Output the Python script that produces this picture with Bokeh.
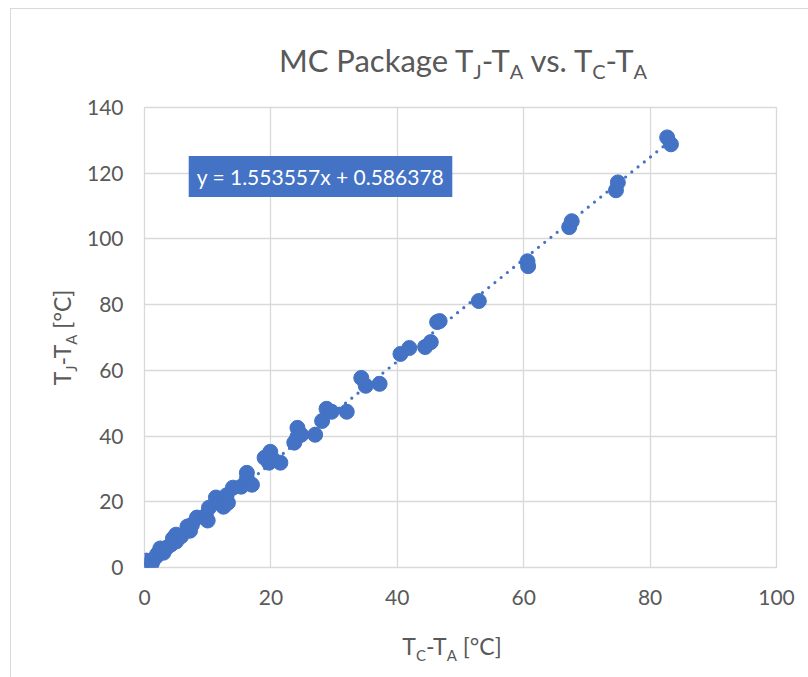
from bokeh.plotting import figure
from bokeh.models import FixedTicker, Range1d, Div, Label
from bokeh.layouts import column, row
from bokeh.embed import file_html
from bokeh.resources import INLINE

# ---- data ----
tc_ta = [0.3, 0.5, 1.0, 1.2, 1.8, 2.0, 2.5, 3.0, 3.5, 4.2, 4.5, 5.0, 5.0, 5.8,
         6.8, 7.2, 7.5, 8.3, 9.7, 10.0, 10.2, 11.3, 11.8, 12.5, 13.2, 13.0,
         14.0, 15.3, 16.2, 16.2, 17.0, 19.0, 19.9, 19.7, 20.3, 21.5, 23.7,
         24.2, 24.2, 24.8, 27.0, 28.1, 28.8, 29.6, 32.0, 34.3, 35.0, 37.2,
         40.5, 41.9, 44.4, 45.3, 46.3, 46.7, 52.9, 60.6, 60.7, 67.2, 67.6,
         74.6, 74.9, 82.7, 83.3]
tj_ta = [2.1, 0.8, 0.3, 1.5, 3.2, 4.0, 5.8, 4.5, 6.0, 7.0, 8.8, 10.0, 7.9, 9.5,
         12.5, 11.2, 13.0, 15.2, 15.8, 14.3, 18.2, 21.3, 19.7, 18.5, 19.7, 22.0,
         24.3, 24.6, 28.8, 27.0, 25.2, 33.4, 35.2, 31.9, 33.0, 31.9, 38.0,
         42.5, 39.8, 40.4, 40.4, 44.6, 48.3, 47.4, 47.4, 57.7, 55.3, 55.9,
         65.0, 66.8, 67.1, 68.6, 74.7, 75.0, 81.1, 93.2, 91.7, 103.6, 105.4,
         114.8, 117.2, 130.9, 128.8]
slope = 1.553557
intercept = 0.586378
x_ticks = [0, 20, 40, 60, 80, 100]
y_ticks = [0, 20, 40, 60, 80, 100, 120, 140]
equation = "y = 1.553557x + 0.586378"

# ---- layout (page pixels) ----
W, H = 808, 677
OX, OY = 11, 9                      # inner origin of the chart-area border
FL, FR, FT, FB = 144, 776, 107, 567  # plot frame
YLAB_W = 68                         # width of the y-title strip
FIG_TOP = 95                        # top of the figure canvas
FIG_BOT = 614                       # bottom of the figure canvas
BLUE = "#4472C4"
GRAY = "#595959"
GRID = "#d9d9d9"
FONT = "Lato"

fig_w = W - OX - YLAB_W
fig_h = FIG_BOT - FIG_TOP

p = figure(width=fig_w, height=fig_h,
           x_range=Range1d(0, 100), y_range=Range1d(0, 140),
           output_backend="svg", toolbar_location=None,
           min_border_left=FL - OX - YLAB_W, min_border_right=W - FR,
           min_border_top=FT - FIG_TOP, min_border_bottom=FIG_BOT - FB,
           margin=0)

p.background_fill_color = "white"
p.border_fill_color = "white"
p.outline_line_color = GRID
p.outline_line_width = 1.3

for ax, ticks in ((p.xaxis, x_ticks), (p.yaxis, y_ticks)):
    ax.ticker = FixedTicker(ticks=ticks)
    ax.axis_line_color = None
    ax.major_tick_line_color = None
    ax.minor_tick_line_color = None
    ax.major_tick_out = 0
    ax.major_tick_in = 0
    ax.minor_tick_out = 0
    ax.major_label_text_font = FONT
    ax.major_label_text_font_size = "21px"
    ax.major_label_text_color = GRAY
p.xaxis.major_label_standoff = 22
p.yaxis.major_label_standoff = 21

p.xgrid.ticker = FixedTicker(ticks=x_ticks)
p.ygrid.ticker = FixedTicker(ticks=y_ticks)
p.grid.grid_line_color = GRID
p.grid.grid_line_width = 1.3

# scatter points
p.scatter(tc_ta, tj_ta, size=15, fill_color=BLUE, line_color=BLUE)

# linear trendline from the fitted coefficients
tx = [min(tc_ta), max(tc_ta)]
ty = [slope * v + intercept for v in tx]
p.line(tx, ty, line_color=BLUE, line_width=3.2, line_dash="0 8",
       line_cap="round")

# equation box
p.add_layout(Label(x=(320 - FL) * 100 / (FR - FL), y=(FB - 176) * 140 / (FB - FT),
                   text=equation, text_font=FONT, text_font_size="21px",
                   text_color="white", text_align="center",
                   text_baseline="middle", background_fill_color=BLUE,
                   padding=8))


def sub(t, size, drop):
    return (f'<span style="font-size:{size}px; vertical-align:-{drop}px">'
            f'{t}</span>')


# ---- title ----
TS, TSS = 31, 20
title_cx = 463 - OX
title_html = (
    f'<div style="width:{2 * title_cx}px; text-align:center; padding-top:36px;'
    f' font-family:{FONT}; font-size:{TS}px; line-height:1; color:{GRAY};'
    f' white-space:nowrap;">MC Package T{sub("J", TSS, 7)}-T{sub("A", TSS, 7)}'
    f' vs. T{sub("C", TSS, 7)}-T{sub("A", TSS, 7)}</div>')
title_div = Div(text=title_html, width=W - OX, height=FIG_TOP - OY, margin=0)

# ---- x axis title ----
XS, XSS = 23, 15
xl_cx = 452 - OX
xl_html = (
    f'<div style="width:{2 * xl_cx}px; text-align:center; padding-top:21px;'
    f' font-family:{FONT}; font-size:{XS}px; line-height:1; color:{GRAY};'
    f' white-space:nowrap;">T{sub("C", XSS, 6)}-T{sub("A", XSS, 6)} [°C]</div>')
xl_div = Div(text=xl_html, width=W - OX, height=H - FIG_BOT, margin=0)

# ---- y axis title (rotated) ----
yl_cx = 62 - OX
yl_cy = (FT + FB) / 2 - FIG_TOP
L = 300
yl_html = (
    f'<div style="width:{L}px; height:{XS}px; margin-left:{yl_cx - L / 2}px;'
    f' margin-top:{yl_cy - XS / 2}px; transform:rotate(-90deg);'
    f' text-align:center; font-family:{FONT}; font-size:{XS}px; line-height:1;'
    f' color:{GRAY}; white-space:nowrap;">'
    f'T{sub("J", XSS, 6)}-T{sub("A", XSS, 6)} [°C]</div>')
yl_div = Div(text=yl_html, width=YLAB_W, height=fig_h, margin=0)

layout = column(title_div, row(yl_div, p, margin=0, spacing=0), xl_div,
                margin=0, spacing=0)
layout.styles = {"margin-left": f"{OX - 1}px", "margin-top": f"{OY - 1}px",
                 "border-left": f"1px solid {GRID}",
                 "border-top": f"1px solid {GRID}",
                 "background-color": "white"}

open("out.html", "w").write(file_html(layout, INLINE))
